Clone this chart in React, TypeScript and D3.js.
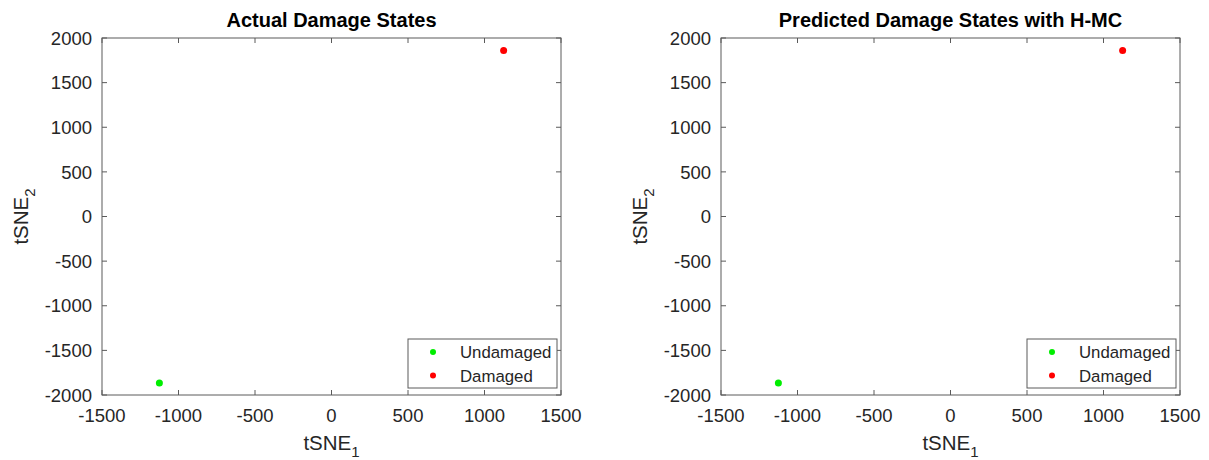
import React from "react";
import * as d3 from "d3";

const xTicks = [-1500, -1000, -500, 0, 500, 1000, 1500];
const yTicks = [-2000, -1500, -1000, -500, 0, 500, 1000, 1500, 2000];
const classes = ["Undamaged", "Damaged"];
const classColors = ["#00ee00", "#ff0000"];
const actualX = [-1125, 1125];
const actualY = [-1865, 1860];
const predictedX = [-1125, 1125];
const predictedY = [-1865, 1860];
const titles = ["Actual Damage States", "Predicted Damage States with H-MC"];

const FONT = "'Liberation Sans', Arial, Helvetica, sans-serif";
const AX = "#5a5a5a";
const TXT = "#262626";

function Panel({ left, right, top, bottom, title, xs, ys }: any) {
  const x = d3.scaleLinear().domain([-1500, 1500]).range([left, right]);
  const y = d3.scaleLinear().domain([-2000, 2000]).range([bottom, top]);
  const tl = 5;
  const cx = (left + right) / 2;
  const cy = (top + bottom) / 2;
  const lgL = right - 153, lgT = bottom - 56, lgW = 149, lgH = 49;
  return (
    <g fontFamily={FONT}>
      <text x={cx} y={27} textAnchor="middle" fontWeight="bold" fontSize={20} fill="#000">{title}</text>
      <rect x={left} y={top} width={right - left} height={bottom - top} fill="white" stroke={AX} strokeWidth={1} />
      {xTicks.map((t) => (
        <g key={"x" + t}>
          <line x1={x(t)} x2={x(t)} y1={bottom} y2={bottom - tl} stroke={AX} />
          <line x1={x(t)} x2={x(t)} y1={top} y2={top + tl} stroke={AX} />
          <text x={x(t)} y={422} textAnchor="middle" fontSize={18.5} fill={TXT}>{t}</text>
        </g>
      ))}
      {yTicks.map((t) => (
        <g key={"y" + t}>
          <line x1={left} x2={left + tl} y1={y(t)} y2={y(t)} stroke={AX} />
          <line x1={right} x2={right - tl} y1={y(t)} y2={y(t)} stroke={AX} />
          <text x={left - 10} y={y(t)} dy="0.36em" textAnchor="end" fontSize={18.5} fill={TXT}>{t}</text>
        </g>
      ))}
      <text x={cx} y={450} textAnchor="middle" fontSize={20.5} fill={TXT}>
        tSNE<tspan fontSize={15} dy={7}>1</tspan>
      </text>
      <text transform={`translate(${left - 74},${cy}) rotate(-90)`} textAnchor="middle" fontSize={20.5} fill={TXT}>
        tSNE<tspan fontSize={15} dy={7}>2</tspan>
      </text>
      {xs.map((v: number, i: number) => (
        <circle key={"p" + i} cx={x(v)} cy={y(ys[i])} r={3.5} fill={classColors[i]} />
      ))}
      <rect x={lgL} y={lgT} width={lgW} height={lgH} fill="white" stroke={AX} />
      {classes.map((c, i) => (
        <g key={c}>
          <circle cx={lgL + 25} cy={lgT + 13 + i * 23.5} r={3} fill={classColors[i]} />
          <text x={lgL + 52} y={lgT + 13 + i * 23.5} dy="0.36em" fontSize={16.8} fill={TXT}>{c}</text>
        </g>
      ))}
    </g>
  );
}

export default function App() {
  return (
    <svg width={1209} height={460} style={{ position: "absolute", left: 0, top: 0, background: "white" }}>
      <rect width={1209} height={460} fill="white" />
      <Panel left={102} right={561} top={38} bottom={395} title={titles[0]} xs={actualX} ys={actualY} />
      <Panel left={721} right={1180} top={38} bottom={395} title={titles[1]} xs={predictedX} ys={predictedY} />
    </svg>
  );
}
